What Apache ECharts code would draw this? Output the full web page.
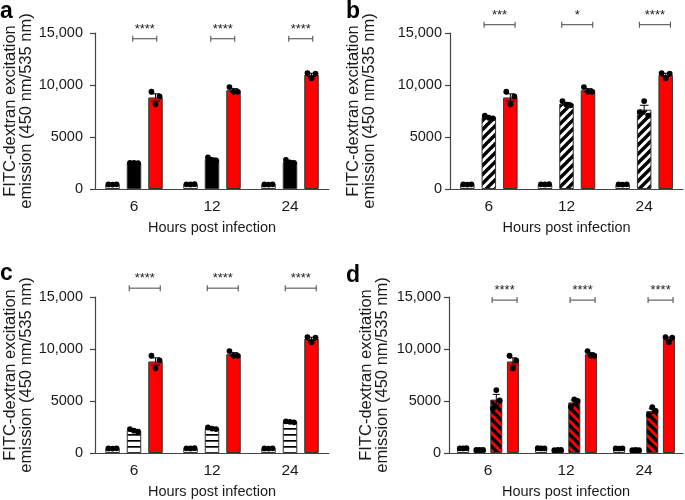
<!DOCTYPE html>
<html><head><meta charset="utf-8">
<script src="https://cdn.jsdelivr.net/npm/echarts@6/dist/echarts.min.js"></script>
<style>html,body{margin:0;padding:0;background:#fff}#c{width:685px;height:500px}</style>
</head><body><div id="c"></div>
<script>
// ---------- data ----------
const categories = ['6', '12', '24'];
const yTicks = [0, 5000, 10000, 15000];

// uninfected control (white bars), same in every panel
const uninfMean = [440, 450, 440];
const uninfPts = [[440, 430, 450], [450, 440, 460], [440, 430, 450]];
// red bars, same in every panel
const redMean = [8800, 9500, 10970];
const redPts = [[9350, 8150, 8900], [9800, 9350, 9350], [11150, 10650, 11100]];

// panel a: black bars
const aBlackMean = [2500, 2870, 2600];
const aBlackPts = [[2520, 2500, 2480], [3050, 2800, 2750], [2800, 2550, 2500]];
const aSig = ['****', '****', '****'];

// panel b: diagonal striped bars
const bStripeMean = [6900, 8200, 7630];
const bStripePts = [[7050, 6850, 6800], [8450, 8100, 8050], [7400, 8450, 7050]];
const bSig = ['***', '*', '****'];

// panel c: horizontal striped bars
const cStripeMean = [2170, 2370, 3000];
const cStripePts = [[2300, 2150, 2050], [2450, 2350, 2300], [3050, 3000, 2950]];
const cSig = ['****', '****', '****'];

// panel d: black bars and red hatched bars
const dUninfMean = [450, 450, 440];
const dUninfPts = [[450, 440, 460], [460, 440, 450], [440, 430, 450]];
const dBlackMean = [300, 290, 280];
const dBlackPts = [[300, 290, 310], [280, 300, 290], [270, 290, 280]];
const dHatchMean = [5130, 4870, 4030];
const dHatchPts = [[4300, 6050, 5050], [4450, 5150, 5000], [3650, 4400, 4050]];
const dSig = ['****', '****', '****'];

// ---------- styles ----------
const FONT = '"Liberation Sans", Arial, Helvetica, sans-serif';
const AXIS = '#444';
const TEXT = '#1a1a1a';

function pattern(kind, bg) {
  const c = document.createElement('canvas');
  const ctx = c.getContext('2d');
  if (kind === 'h') {
    c.width = 6; c.height = 6;
    ctx.fillStyle = bg; ctx.fillRect(0, 0, 6, 6);
    ctx.fillStyle = '#000'; ctx.fillRect(0, 2, 6, 1.7);
  } else {
    const s = 9;
    c.width = s; c.height = s;
    ctx.fillStyle = bg; ctx.fillRect(0, 0, s, s);
    ctx.strokeStyle = '#000'; ctx.lineWidth = 3.4;
    ctx.beginPath();
    for (const k of [-s, 0, s]) {
      if (kind === '/') { ctx.moveTo(k - 1, s + 1); ctx.lineTo(k + s + 1, -1); }
      else { ctx.moveTo(k - 1, -1); ctx.lineTo(k + s + 1, s + 1); }
    }
    ctx.stroke();
  }
  return { image: c, repeat: 'repeat' };
}

const styles = {
  white: '#ffffff',
  black: '#000000',
  red: '#ff0000',
  diag: pattern('/', '#ffffff'),
  horiz: pattern('h', '#ffffff'),
  redHatch: pattern('\\', '#ff0000')
};

const panels = [
  { grid: { left: 95, top: 33, width: 234, height: 156 }, barWidth: 14.5, gap: 7,
    groups: [[uninfMean, uninfPts, 'white'], [aBlackMean, aBlackPts, 'black'], [redMean, redPts, 'red']],
    sig: aSig, from: 1, to: 2, bracketY: 14450, half: 12, nameGap: 61, labelMargin: 12, letter: ['a', 0, 0] },
  { grid: { left: 450, top: 33, width: 233, height: 156 }, barWidth: 14.5, gap: 7,
    groups: [[uninfMean, uninfPts, 'white'], [bStripeMean, bStripePts, 'diag'], [redMean, redPts, 'red']],
    sig: bSig, from: 1, to: 2, bracketY: 15800, half: 15.5, nameGap: 73, labelMargin: 8, letter: ['b', 346, 0] },
  { grid: { left: 95, top: 297, width: 234, height: 156 }, barWidth: 14.5, gap: 7,
    groups: [[uninfMean, uninfPts, 'white'], [cStripeMean, cStripePts, 'horiz'], [redMean, redPts, 'red']],
    sig: cSig, from: 1, to: 2, bracketY: 15850, half: 15.5, nameGap: 61, labelMargin: 12, letter: ['c', 0, 262] },
  { grid: { left: 449, top: 297, width: 234, height: 156 }, barWidth: 12, gap: 4.6,
    groups: [[dUninfMean, dUninfPts, 'white'], [dBlackMean, dBlackPts, 'black'], [dHatchMean, dHatchPts, 'redHatch'], [redMean, redPts, 'red']],
    sig: dSig, from: 2, to: 3, bracketY: 14700, half: 12.5, nameGap: 59, labelMargin: 8, letter: ['d', 346, 264] }
];

function barOffset(p, j) {
  const n = p.groups.length;
  const total = n * p.barWidth + (n - 1) * p.gap;
  return -total / 2 + j * (p.barWidth + p.gap) + p.barWidth / 2;
}

function fmt(v) { return v >= 10000 ? String(v).replace(/\B(?=(\d{3})+(?!\d))/g, ',') : String(v); }

const grids = [], xAxes = [], yAxes = [], series = [], graphics = [];
panels.forEach((p, gi) => {
  grids.push(p.grid);
  xAxes.push({
    type: 'category', gridIndex: gi, data: categories,
    axisLine: { lineStyle: { color: AXIS, width: 1.2 } },
    axisTick: { alignWithLabel: true, length: 4, lineStyle: { color: AXIS, width: 1.2 } },
    axisLabel: { color: TEXT, fontSize: 15.5, fontFamily: FONT, margin: 10 },
    name: 'Hours post infection', nameLocation: 'middle', nameGap: 31,
    nameTextStyle: { color: TEXT, fontSize: 14.5, fontFamily: FONT }
  });
  yAxes.push({
    type: 'value', gridIndex: gi, min: yTicks[0], max: yTicks[yTicks.length - 1], interval: yTicks[1] - yTicks[0],
    splitLine: { show: false },
    axisLine: { show: true, lineStyle: { color: AXIS, width: 1.2 } },
    axisTick: { show: true, length: 5, lineStyle: { color: AXIS, width: 1.2 } },
    axisLabel: { color: TEXT, fontSize: 14.5, fontFamily: FONT, margin: p.labelMargin, formatter: fmt },
    name: 'FITC-dextran excitation\nemission (450 nm/535 nm)', nameLocation: 'middle', nameGap: p.nameGap,
    nameTextStyle: { color: TEXT, fontSize: 16.5, fontFamily: FONT, lineHeight: 16 }
  });
  p.groups.forEach((g, j) => {
    const [mean, pts, st] = g;
    series.push({
      type: 'bar', xAxisIndex: gi, yAxisIndex: gi, data: mean,
      barWidth: p.barWidth, barGap: (p.gap / p.barWidth * 100) + '%',
      itemStyle: { color: styles[st], borderColor: '#333', borderWidth: 1 },
      silent: true, z: 2
    });
    const off = barOffset(p, j);
    series.push({
      type: 'custom', xAxisIndex: gi, yAxisIndex: gi, clip: false, silent: true, z: 5,
      data: mean.map((m, i) => [i, m]),
      renderItem: function (params, api) {
        const i = params.dataIndex;
        const cat = api.value(0), m = api.value(1);
        const x = api.coord([cat, 0])[0] + off;
        const ps = pts[i], n = ps.length;
        const avg = ps.reduce((a, b) => a + b, 0) / n;
        const sd = Math.sqrt(ps.reduce((a, b) => a + (b - avg) * (b - avg), 0) / (n - 1));
        const sem = sd / Math.sqrt(n);
        const yt = api.coord([cat, m + sem])[1], yb = api.coord([cat, Math.max(0, m - sem)])[1];
        const cap = p.barWidth * 0.3;
        const ls = { stroke: '#000', lineWidth: 1 };
        const children = [
          { type: 'line', shape: { x1: x, y1: yb, x2: x, y2: yt }, style: ls },
          { type: 'line', shape: { x1: x - cap, y1: yt, x2: x + cap, y2: yt }, style: ls },
          { type: 'line', shape: { x1: x - cap, y1: yb, x2: x + cap, y2: yb }, style: ls }
        ];
        const spread = p.barWidth * 0.28;
        ps.forEach((v, k) => {
          const cx = x + (k - (n - 1) / 2) * spread;
          children.push({ type: 'circle', shape: { cx: cx, cy: api.coord([cat, v])[1], r: 2.9 }, style: { fill: '#000' } });
        });
        return { type: 'group', children: children };
      }
    });
  });
  const o1 = barOffset(p, p.from), o2 = barOffset(p, p.to);
  series.push({
    type: 'custom', xAxisIndex: gi, yAxisIndex: gi, clip: false, silent: true, z: 6,
    data: categories.map((c, i) => [i, p.bracketY]),
    renderItem: function (params, api) {
      const i = params.dataIndex;
      const c = api.coord([api.value(0), api.value(1)]);
      const mid = c[0] + (o1 + o2) / 2, y = c[1];
      const ls = { stroke: '#555', lineWidth: 1.1 };
      return { type: 'group', children: [
        { type: 'line', shape: { x1: mid - p.half, y1: y, x2: mid + p.half, y2: y }, style: ls },
        { type: 'line', shape: { x1: mid - p.half, y1: y - 3, x2: mid - p.half, y2: y + 3 }, style: ls },
        { type: 'line', shape: { x1: mid + p.half, y1: y - 3, x2: mid + p.half, y2: y + 3 }, style: ls },
        { type: 'text', style: { text: p.sig[i], x: mid, y: y - 3, textAlign: 'center', textVerticalAlign: 'bottom', font: '13px ' + FONT, fill: '#222' } }
      ] };
    }
  });
  graphics.push({ type: 'text', left: p.letter[1], top: p.letter[2], style: { text: p.letter[0], font: 'bold 23px ' + FONT, fill: '#000' } });
});

const chart = echarts.init(document.getElementById('c'), null, { renderer: 'canvas' });
chart.setOption({
  animation: false,
  backgroundColor: '#fff',
  grid: grids, xAxis: xAxes, yAxis: yAxes, series: series, graphic: graphics
});
</script></body></html>
